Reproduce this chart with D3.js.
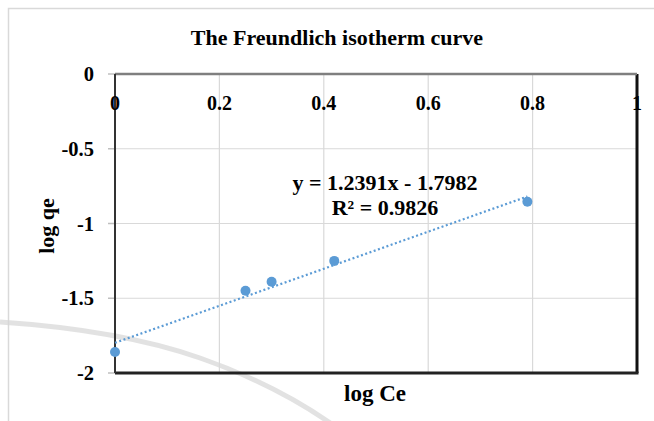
<!DOCTYPE html>
<html>
<head>
<meta charset="utf-8">
<script src="https://cdn.jsdelivr.net/npm/d3@7"></script>
<style>
  body { margin: 0; background: #fff; }
  text { font-family: "Liberation Serif", "Times New Roman", serif; font-weight: bold; fill: #000; }
</style>
</head>
<body>
<svg width="654" height="421"></svg>
<script>
// data
var logCe = [0, 0.25, 0.30, 0.42, 0.79];
var logQe = [-1.86, -1.45, -1.39, -1.25, -0.855];
var xTicks = [0, 0.2, 0.4, 0.6, 0.8, 1];
var yTicks = [0, -0.5, -1, -1.5, -2];
var slope = 1.2391, intercept = -1.7982, r2 = 0.9826;

var margin = { top: 74, right: 17, bottom: 48, left: 115 },
  width = 654 - margin.left - margin.right,
  height = 421 - margin.top - margin.bottom;

var svg = d3.select("svg");

// outer chart border
svg.append("rect")
  .attr("x", 8.5).attr("y", 8.5)
  .attr("width", 660).attr("height", 420)
  .attr("fill", "none")
  .attr("stroke", "#d9d9d9")
  .attr("stroke-width", 1.5);

// faint watermark arc
svg.append("path")
  .attr("d", "M0,322 Q120,330 200,358 T340,430")
  .attr("fill", "none")
  .attr("stroke", "#d6d6d6")
  .attr("stroke-width", 5)
  .attr("opacity", 0.7);

var g = svg.append("g")
  .attr("transform", "translate(" + margin.left + "," + margin.top + ")");

var x = d3.scaleLinear().domain([0, 1]).range([0, width]);
var y = d3.scaleLinear().domain([-2, 0]).range([height, 0]);

// gridlines
g.selectAll(".vgrid").data(xTicks.slice(1, -1)).enter()
  .append("line")
  .attr("x1", d => x(d)).attr("x2", d => x(d))
  .attr("y1", 0).attr("y2", height)
  .attr("stroke", "#d9d9d9").attr("stroke-width", 1.2);

g.selectAll(".hgrid").data(yTicks.slice(1, -1)).enter()
  .append("line")
  .attr("x1", 0).attr("x2", width)
  .attr("y1", d => y(d)).attr("y2", d => y(d))
  .attr("stroke", "#d9d9d9").attr("stroke-width", 1.2);

// frame: right and bottom dark lines
g.append("line")
  .attr("x1", width).attr("x2", width)
  .attr("y1", 0).attr("y2", height)
  .attr("stroke", "#111").attr("stroke-width", 3);
g.append("line")
  .attr("x1", 0).attr("x2", width + 1.5)
  .attr("y1", height).attr("y2", height)
  .attr("stroke", "#222").attr("stroke-width", 3);

// y axis ticks
g.selectAll(".ytick").data(yTicks).enter()
  .append("line")
  .attr("x1", -7).attr("x2", 0)
  .attr("y1", d => y(d)).attr("y2", d => y(d))
  .attr("stroke", "#bfbfbf").attr("stroke-width", 1.5);

g.selectAll(".ylab").data(yTicks).enter()
  .append("text")
  .attr("x", -21)
  .attr("y", d => y(d))
  .attr("dy", "0.35em")
  .attr("text-anchor", "end")
  .style("font-size", "20.5px")
  .text(d => d3.format("")(d).replace("−", "-"));

// top axis (x axis at y = 0) and left axis (x = 0)
g.append("line")
  .attr("x1", 0).attr("x2", width)
  .attr("y1", y(0)).attr("y2", y(0))
  .attr("stroke", "#7f7f7f").attr("stroke-width", 2.5);
g.append("line")
  .attr("x1", x(0)).attr("x2", x(0))
  .attr("y1", y(0)).attr("y2", height)
  .attr("stroke", "#333").attr("stroke-width", 2);

g.selectAll(".xlab").data(xTicks).enter()
  .append("text")
  .attr("x", d => x(d))
  .attr("y", 36)
  .attr("text-anchor", "middle")
  .style("font-size", "20px")
  .text(d => d);

// trendline
var trend = [0, d3.max(logCe)].map(v => [v, slope * v + intercept]);
g.append("path")
  .datum(trend)
  .attr("d", d3.line().x(d => x(d[0])).y(d => y(d[1])))
  .attr("fill", "none")
  .attr("stroke", "#5b9bd5")
  .attr("stroke-width", 2.2)
  .attr("stroke-dasharray", "2,2.5");

// points
g.selectAll(".pt").data(logCe).enter()
  .append("circle")
  .attr("cx", d => x(d))
  .attr("cy", (d, i) => y(logQe[i]))
  .attr("r", 5)
  .attr("fill", "#5b9bd5");

// equation label
g.append("text")
  .attr("x", 270).attr("y", 116)
  .attr("text-anchor", "middle")
  .style("font-size", "22px")
  .text("y = " + slope + "x - " + Math.abs(intercept));
g.append("text")
  .attr("x", 270).attr("y", 141)
  .attr("text-anchor", "middle")
  .style("font-size", "22px")
  .text("R² = " + r2);

// title
svg.append("text")
  .attr("x", 337).attr("y", 45)
  .attr("text-anchor", "middle")
  .style("font-size", "22px")
  .text("The Freundlich isotherm curve");

// axis titles
svg.append("text")
  .attr("x", 375).attr("y", 401)
  .attr("text-anchor", "middle")
  .style("font-size", "23px")
  .text("log Ce");
svg.append("text")
  .attr("transform", "translate(54,226) rotate(-90)")
  .attr("text-anchor", "middle")
  .style("font-size", "22px")
  .text("log qe");
</script>
</body>
</html>
